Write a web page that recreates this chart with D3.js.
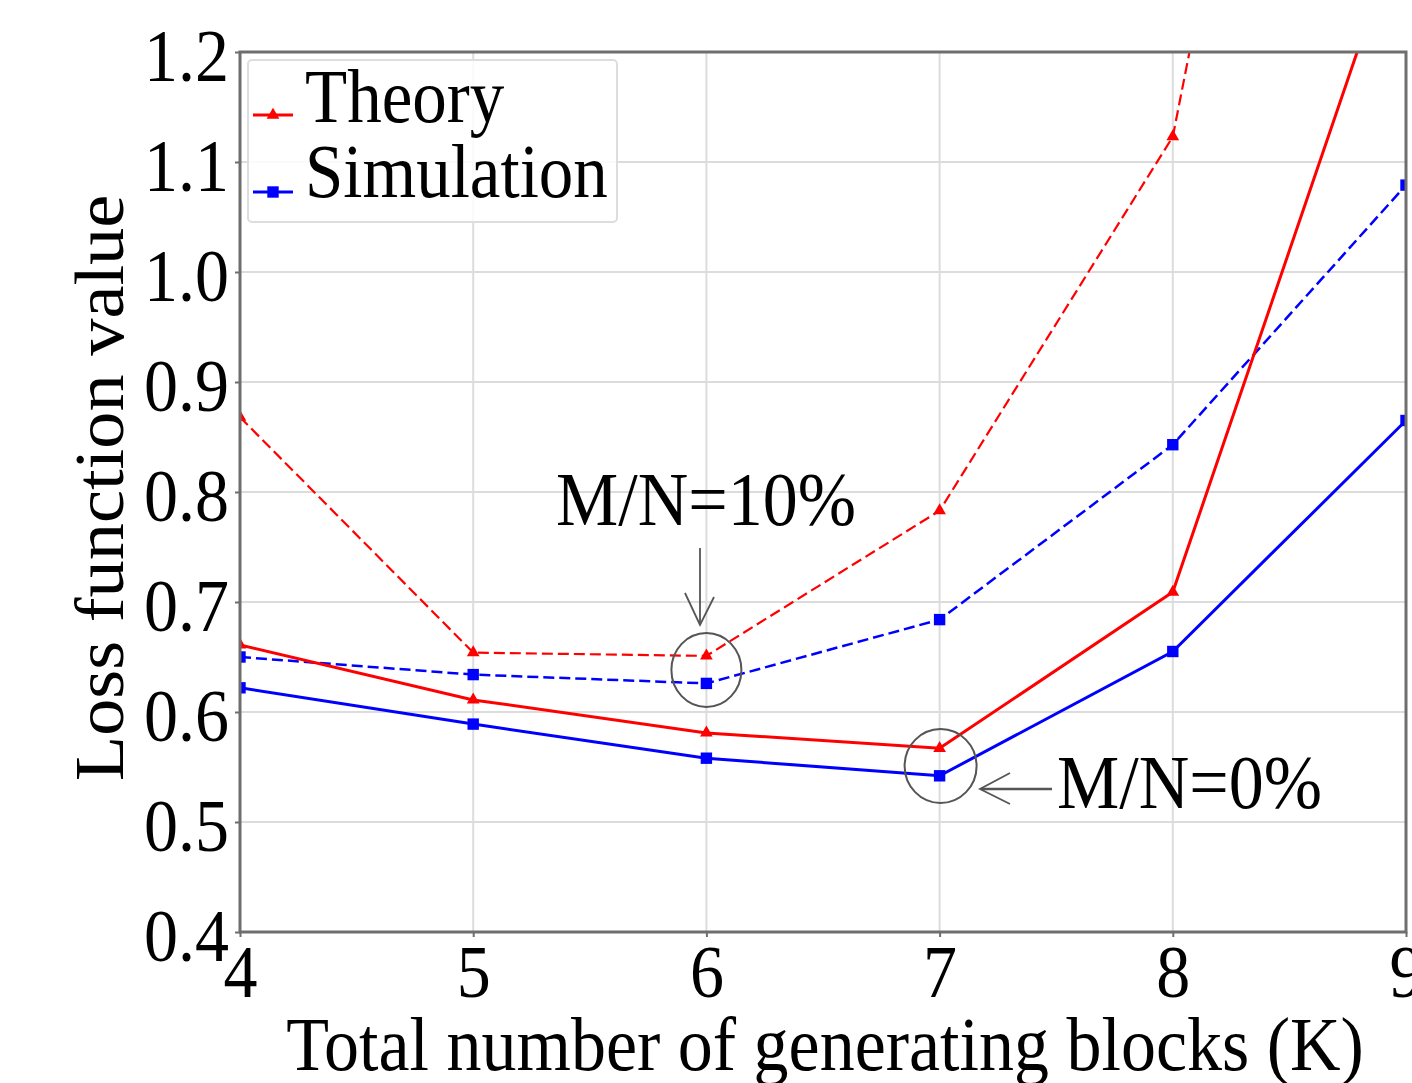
<!DOCTYPE html>
<html>
<head>
<meta charset="utf-8">
<script src="https://cdn.jsdelivr.net/npm/d3@7"></script>
<style>
  html, body { margin: 0; padding: 0; background: #fff; }
  svg { display: block; }
  text { font-family: "Liberation Serif", "Times New Roman", serif; fill: #000; }
</style>
</head>
<body>
<svg id="chart" width="1412" height="1083"></svg>
<script>
// ---- data ----
const kValues = [4, 5, 6, 7, 8, 9];
const theory10 = [0.868, 0.654, 0.651, 0.783, 1.123, 2.2];   // dashed red (M/N=10%)
const theory0  = [0.661, 0.611, 0.581, 0.567, 0.709, 1.33];  // solid red (M/N=0%)
const sim10    = [0.650, 0.634, 0.626, 0.684, 0.843, 1.079]; // dashed blue
const sim0     = [0.622, 0.589, 0.558, 0.542, 0.655, 0.865]; // solid blue
const xTicks = [4, 5, 6, 7, 8, 9];
const yTicks = [0.4, 0.5, 0.6, 0.7, 0.8, 0.9, 1.0, 1.1, 1.2];
const legendLabels = ["Theory", "Simulation"];
const xLabel = "Total number of generating blocks (K)";
const yLabel = "Loss function value";

(function () {
const svg = d3.select("#chart");
const pL = 240, pR = 1406, pT = 52, pB = 932;
const x = d3.scaleLinear().domain([4, 9]).range([pL, pR]);
const y = d3.scaleLinear().domain([0.4, 1.2]).range([pB, pT]);
const SY = 1.1; // vertical stretch of glyphs in reference

// grid
const grid = svg.append("g");
grid.selectAll("line.v").data(xTicks).join("line")
  .attr("x1", d => x(d)).attr("x2", d => x(d)).attr("y1", pT).attr("y2", pB)
  .attr("stroke", "#dcdcdc").attr("stroke-width", 2);
grid.selectAll("line.h").data(yTicks).join("line")
  .attr("x1", pL).attr("x2", pR).attr("y1", d => y(d)).attr("y2", d => y(d))
  .attr("stroke", "#dcdcdc").attr("stroke-width", 2);

// clip
svg.append("defs").append("clipPath").attr("id", "plotclip")
  .append("rect").attr("x", pL).attr("y", pT).attr("width", pR - pL).attr("height", pB - pT);

const plot = svg.append("g").attr("clip-path", "url(#plotclip)");
const line = d3.line().x((d, i) => x(kValues[i])).y(d => y(d));

const series = [
  { vals: theory10, color: "#ff0000", dash: "11,5", w: 2.2, marker: "tri" },
  { vals: sim10,    color: "#0000ff", dash: "11,5", w: 2.5, marker: "sq" },
  { vals: theory0,  color: "#ff0000", dash: null,   w: 3,   marker: "tri" },
  { vals: sim0,     color: "#0000ff", dash: null,   w: 3,   marker: "sq" }
];
const triSym = d3.symbol().type(d3.symbolTriangle).size(70);
const sqSym = d3.symbol().type(d3.symbolSquare).size(130);

series.forEach(s => {
  plot.append("path").datum(s.vals).attr("d", line)
    .attr("fill", "none").attr("stroke", s.color).attr("stroke-width", s.w)
    .attr("stroke-dasharray", s.dash);
  plot.selectAll(null).data(s.vals).join("path")
    .attr("d", s.marker === "tri" ? triSym() : sqSym())
    .attr("transform", (d, i) => `translate(${x(kValues[i])},${y(d)})`)
    .attr("fill", s.color);
});

// axes
const axisColor = "#6e6e6e";
const gx = svg.append("g").attr("transform", `translate(0,${pB})`)
  .call(d3.axisBottom(x).tickValues(xTicks).tickFormat(d3.format("d")).tickSizeInner(5).tickSizeOuter(0));
const gy = svg.append("g").attr("transform", `translate(${pL},0)`)
  .call(d3.axisLeft(y).tickValues(yTicks).tickFormat(d3.format(".1f")).tickSizeInner(5).tickSizeOuter(0));
[gx, gy].forEach(g => {
  g.select(".domain").remove();
  g.selectAll(".tick line").attr("stroke", axisColor).attr("stroke-width", 2);
  g.selectAll(".tick text").attr("font-family", "Liberation Serif").attr("font-size", 68).attr("fill", "#000");
});
gx.selectAll(".tick text").attr("dy", null).attr("y", 0)
  .attr("transform", `translate(0,65) scale(1,${SY})`);
gy.selectAll(".tick text").attr("dy", null).attr("x", 0)
  .attr("transform", `translate(-11,28) scale(1,${SY})`);

// spines
svg.append("rect").attr("x", pL).attr("y", pT).attr("width", pR - pL).attr("height", pB - pT)
  .attr("fill", "none").attr("stroke", axisColor).attr("stroke-width", 3);

// axis labels
svg.append("text").attr("text-anchor", "middle").attr("font-size", 70)
  .attr("transform", `translate(${(pL + pR) / 2 + 2},1070) scale(1,${SY})`).text(xLabel);
svg.append("text").attr("text-anchor", "middle").attr("font-size", 69)
  .attr("transform", `translate(123,488) rotate(-90) scale(${SY * 0.98},1)`).text(yLabel);

// legend
const lg = svg.append("g");
lg.append("rect").attr("x", 248).attr("y", 60).attr("width", 369).attr("height", 162).attr("rx", 4)
  .attr("fill", "#fff").attr("fill-opacity", 0.85).attr("stroke", "#dddddd").attr("stroke-width", 2);
const legItems = [
  { label: legendLabels[0], color: "#ff0000", marker: "tri", ly: 115, ty: 122 },
  { label: legendLabels[1], color: "#0000ff", marker: "sq", ly: 192, ty: 197 }
];
legItems.forEach(it => {
  lg.append("line").attr("x1", 253).attr("x2", 293).attr("y1", it.ly).attr("y2", it.ly)
    .attr("stroke", it.color).attr("stroke-width", 3);
  lg.append("path").attr("d", it.marker === "tri" ? triSym() : sqSym())
    .attr("transform", `translate(273,${it.ly})`).attr("fill", it.color);
  lg.append("text").attr("font-size", 69)
    .attr("transform", `translate(305,${it.ty}) scale(1,${SY})`).text(it.label);
});

// annotations
const ann = svg.append("g").attr("stroke", "#555").attr("fill", "none");
ann.append("ellipse").attr("cx", x(6)).attr("cy", 670).attr("rx", 35).attr("ry", 37).attr("stroke-width", 2);
ann.append("ellipse").attr("cx", x(7) + 1).attr("cy", 766).attr("rx", 36).attr("ry", 37).attr("stroke-width", 2);
ann.append("line").attr("x1", 700).attr("y1", 548).attr("x2", 700).attr("y2", 624).attr("stroke-width", 1.8);
ann.append("path").attr("d", "M685,593 L700,625 L714,597").attr("stroke-width", 1.8);
ann.append("line").attr("x1", 1052).attr("y1", 789).attr("x2", 981).attr("y2", 789).attr("stroke-width", 2.5);
ann.append("path").attr("d", "M1010,773 L980,789 L1010,804").attr("stroke-width", 1.8);

svg.append("text").attr("font-size", 70)
  .attr("transform", `translate(556,525) scale(1,${SY})`).text("M/N=10%");
svg.append("text").attr("font-size", 70)
  .attr("transform", `translate(1057,808) scale(1,${SY})`).text("M/N=0%");
})();
</script>
</body>
</html>
